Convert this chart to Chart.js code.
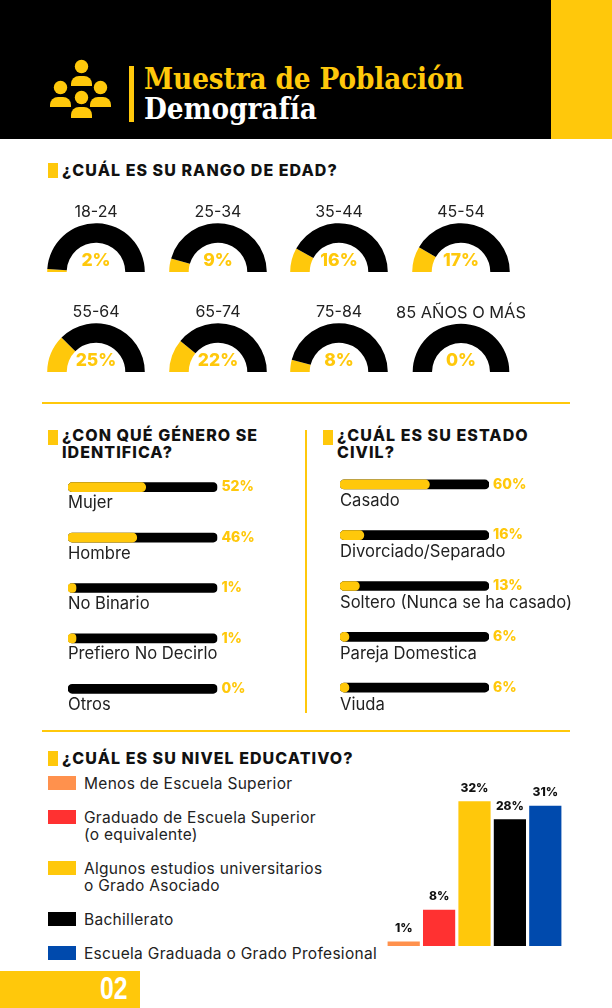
<!DOCTYPE html>
<html lang="es">
<head>
<meta charset="utf-8">
<title>Muestra de Población</title>
<script src="https://cdn.jsdelivr.net/npm/chart.js@4"></script>
<style>
    body { margin: 0; width: 612px; height: 1008px; position: relative; overflow: hidden; background: #fff; font-family: Inter, sans-serif; color: #111; }
    canvas { position: absolute; display: block; }
    .abs { position: absolute; }
    .head-black { left: 0; top: 0; width: 551px; height: 139px; background: #000; }
    .head-yellow { left: 551px; top: 0; width: 61px; height: 139px; background: #FFC80B; }
    .divider { left: 129px; top: 66px; width: 5px; height: 56px; background: #FFC80B; }
    .title { left: 144px; font-family: "DejaVu Serif Condensed", "DejaVu Serif", serif; font-weight: 700; font-size: 29.3px; line-height: 30px; white-space: nowrap; }
    .rule { background: #FFC80B; }
    .bullet { width: 10px; height: 15px; background: #FFC80B; }
    h2 { position: absolute; margin: 0; font-size: 16px; line-height: 17px; font-weight: 800; color: #111; letter-spacing: 1.05px; }
    #legend { left: 48px; top: 774.5px; display: flex; flex-direction: column; gap: 17px; }
    #legend div { display: flex; font-size: 15.5px; line-height: 17px; letter-spacing: 0.3px; white-space: pre-line; color: #222; }
    #legend span { width: 28px; height: 14px; margin: 1.5px 8px 0 0; flex: none; }
    .page-no { left: 0; top: 971px; width: 140px; height: 37px; background: #FFC80B; }
    .page-no b { position: absolute; left: 100px; top: 0; font-family: "Liberation Sans", sans-serif; color: #fff; font-size: 31px; line-height: 36px; transform: scaleX(0.8); transform-origin: left center; }
</style>
</head>
<body>
<div class="abs head-black"></div>
<div class="abs head-yellow"></div>
<svg class="abs" style="left:0;top:0" width="140" height="139" fill="#FFC80B">
    <circle cx="81.5" cy="66.5" r="6.7"/><path d="M71 86v-2a8 8 0 0 1 8-8h5a8 8 0 0 1 8 8v2z"/>
    <circle cx="60.5" cy="87.5" r="6.7"/><path d="M50 107v-2a8 8 0 0 1 8-8h5a8 8 0 0 1 8 8v2z"/>
    <circle cx="100.5" cy="87.5" r="6.7"/><path d="M90 107v-2a8 8 0 0 1 8-8h5a8 8 0 0 1 8 8v2z"/>
    <circle cx="81.5" cy="97.5" r="6.7"/><path d="M71 118v-3a8 8 0 0 1 8-8h5a8 8 0 0 1 8 8v3z"/>
</svg>
<div class="abs divider"></div>
<div class="abs title" style="top:64px;color:#FFC80B;letter-spacing:-0.1px">Muestra de Población</div>
<div class="abs title" style="top:94px;color:#fff">Demografía</div>

<div class="abs bullet" style="left:48px;top:163px"></div>
<h2 style="left:62px;top:162px">¿CUÁL ES SU RANGO DE EDAD?</h2>
<div id="gauges"></div>

<div class="abs rule" style="left:42px;top:402px;width:528px;height:2px"></div>

<div class="abs bullet" style="left:48px;top:430px"></div>
<h2 style="left:62px;top:427px">¿CON QUÉ GÉNERO SE<br>IDENTIFICA?</h2>
<canvas id="genderChart" width="232" height="252" style="left:68px;top:462px"></canvas>

<div class="abs rule" style="left:305px;top:430px;width:2px;height:283px"></div>

<div class="abs bullet" style="left:323px;top:430px"></div>
<h2 style="left:337px;top:427px">¿CUÁL ES SU ESTADO<br>CIVIL?</h2>
<canvas id="civilChart" width="240" height="254" style="left:340px;top:459px"></canvas>

<div class="abs rule" style="left:42px;top:730px;width:528px;height:2px"></div>

<div class="abs bullet" style="left:48px;top:751px"></div>
<h2 style="left:62px;top:750px">¿CUÁL ES SU NIVEL EDUCATIVO?</h2>
<div class="abs" id="legend"></div>
<canvas id="eduChart" width="177" height="181" style="left:386px;top:765px"></canvas>

<div class="abs page-no"><b>02</b></div>

<script>
const ageLabels = ['18-24', '25-34', '35-44', '45-54', '55-64', '65-74', '75-84', '85 AÑOS O MÁS'];
const ageValues = [2, 9, 16, 17, 25, 22, 8, 0];

const genderLabels = ['Mujer', 'Hombre', 'No Binario', 'Prefiero No Decirlo', 'Otros'];
const genderValues = [52, 46, 1, 1, 0];

const civilLabels = ['Casado', 'Divorciado/Separado', 'Soltero (Nunca se ha casado)', 'Pareja Domestica', 'Viuda'];
const civilValues = [60, 16, 13, 6, 6];

const eduLabels = ['Menos de Escuela Superior', 'Graduado de Escuela Superior\n(o equivalente)', 'Algunos estudios universitarios\no Grado Asociado', 'Bachillerato', 'Escuela Graduada o Grado Profesional'];
const eduValues = [1, 8, 32, 28, 31];
const eduColors = ['#FF914D', '#FF3131', '#FFC80B', '#000000', '#004AAD'];

const YELLOW = '#FFC80B';
const TEXT = '#222';

Chart.defaults.animation = false;
Chart.defaults.responsive = false;
Chart.defaults.font.family = 'Inter, sans-serif';
Chart.defaults.plugins.legend.display = false;
Chart.defaults.plugins.tooltip.enabled = false;

// gauges: half doughnuts, percent in the middle
const gaugeText = {
    id: 'gaugeText',
    afterDraw(chart) {
        const arc = chart.getDatasetMeta(0).data[0];
        const ctx = chart.ctx;
        ctx.save();
        ctx.font = '800 17.5px Inter, sans-serif';
        ctx.fillStyle = YELLOW;
        ctx.textAlign = 'center';
        ctx.textBaseline = 'middle';
        ctx.fillText(chart.data.datasets[0].data[0] + '%', arc.x, arc.y - 11);
        ctx.restore();
    }
};

const gauges = document.getElementById('gauges');
ageLabels.forEach((label, i) => {
    const canvas = document.createElement('canvas');
    canvas.width = 140;
    canvas.height = 73;
    canvas.style.left = (26.2 + (i % 4) * 121.5) + 'px';
    canvas.style.top = (199 + Math.floor(i / 4) * 100) + 'px';
    gauges.appendChild(canvas);
    new Chart(canvas, {
        type: 'doughnut',
        data: {
            labels: ['Sí', 'Resto'],
            datasets: [{ data: [ageValues[i], 100 - ageValues[i]], backgroundColor: [YELLOW, '#000'], borderWidth: 0 }]
        },
        options: {
            rotation: -90,
            circumference: 180,
            cutout: '60%',
            plugins: {
                title: {
                    display: true,
                    text: label,
                    color: TEXT,
                    font: { size: i === 7 ? 16.4 : 16, weight: '400', lineHeight: 1.2 },
                    padding: { top: 4, bottom: 1 }
                }
            }
        },
        plugins: [gaugeText]
    });
});

// percent next to the end of each track
const trackText = {
    id: 'trackText',
    afterDraw(chart) {
        const ctx = chart.ctx;
        ctx.save();
        ctx.font = '800 14px Inter, sans-serif';
        ctx.fillStyle = YELLOW;
        ctx.textBaseline = 'middle';
        chart.getDatasetMeta(0).data.forEach((bar, i) => {
            ctx.fillText(chart.data.datasets[0].data[i] + '%', chart.chartArea.right + 4, bar.y);
        });
        ctx.restore();
    }
};

function createTrackChart(id, labels, values, rightPad, labelOffset) {
    new Chart(document.getElementById(id), {
        type: 'bar',
        data: {
            labels: labels,
            datasets: [
                { data: values, backgroundColor: values.map(v => v === 0 ? 'transparent' : YELLOW), order: 1, minBarLength: 8 },
                { data: labels.map(() => 100), backgroundColor: '#000', order: 2 }
            ]
        },
        options: {
            indexAxis: 'y',
            layout: { padding: { right: rightPad } },
            datasets: { bar: { grouped: false, barThickness: 9, borderRadius: 5, borderSkipped: false } },
            scales: {
                x: { display: false, min: 0, max: 100 },
                y: {
                    grid: { display: false },
                    border: { display: false },
                    ticks: { mirror: true, padding: 0, labelOffset: labelOffset, autoSkip: false, color: TEXT, font: { size: 16.6 } },
                    afterFit(scale) {
                        // labels sit inside the plot, so the axis takes no room
                        scale.width = 0;
                        scale.paddingTop = 0;
                        scale.paddingBottom = 0;
                    }
                }
            }
        },
        plugins: [trackText]
    });
}

createTrackChart('genderChart', genderLabels, genderValues, 82.6, 16);
createTrackChart('civilChart', civilLabels, civilValues, 91, 17);

// legend of the education chart
const legend = document.getElementById('legend');
eduLabels.forEach((label, i) => {
    const row = document.createElement('div');
    const swatch = document.createElement('span');
    swatch.style.background = eduColors[i];
    row.appendChild(swatch);
    row.appendChild(document.createTextNode(label));
    legend.appendChild(row);
});

const eduText = {
    id: 'eduText',
    afterDraw(chart) {
        const ctx = chart.ctx;
        ctx.save();
        ctx.font = '800 12px Inter, sans-serif';
        ctx.fillStyle = '#111';
        ctx.textAlign = 'center';
        ctx.textBaseline = 'middle';
        chart.getDatasetMeta(0).data.forEach((bar, i) => {
            ctx.fillText(eduValues[i] + '%', bar.x, bar.y - 13);
        });
        ctx.restore();
    }
};

new Chart(document.getElementById('eduChart'), {
    type: 'bar',
    data: {
        labels: eduLabels,
        datasets: [{ data: eduValues, backgroundColor: eduColors, barPercentage: 0.91, categoryPercentage: 1 }]
    },
    options: {
        scales: {
            x: { display: false },
            y: { display: false, min: 0, max: 40 }
        }
    },
    plugins: [eduText]
});
</script>
</body>
</html>
